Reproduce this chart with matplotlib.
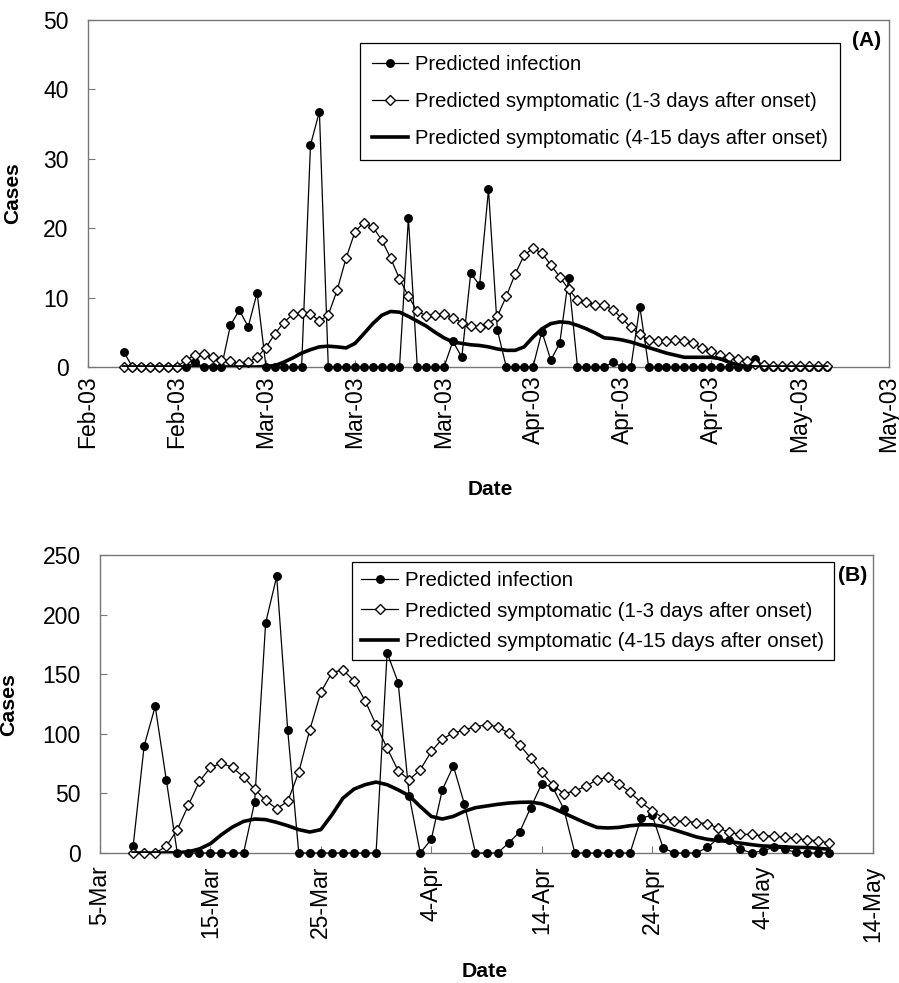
import matplotlib.pyplot as plt
import numpy as np
import pandas as pd

plt.rcParams['font.family'] = ['Liberation Sans', 'DejaVu Sans']

# ---- panel A data (daily, from 14 Feb 2003) ----
dates_a = pd.date_range('2003-02-14', periods=80, freq='D')
infection_a = [2.2, 0, 0, 0, 0, 0, 0, 0, 0.7, 0, 0, 0, 6.0, 8.2, 5.8, 10.7,
               0, 0, 0, 0, 0, 32.0, 36.8, 0, 0, 0, 0, 0, 0, 0, 0, 0,
               21.5, 0, 0, 0, 0, 3.7, 1.4, 13.5, 11.8, 25.6, 5.3, 0, 0, 0, 0,
               5.1, 1.0, 3.4, 12.8, 0, 0, 0, 0, 0.7, 0, 0, 8.7,
               0, 0, 0, 0, 0, 0, 0, 0, 0, 0, 0, 0, 1.2, 0, 0, 0, 0, 0, 0, 0, 0]
sympt13_a = [0, 0, 0, 0, 0, 0, 0, 1.0, 1.7, 1.9, 1.4, 1.0, 0.9, 0.4, 0.7, 1.4,
             2.8, 4.8, 6.4, 7.6, 7.8, 7.7, 6.6, 7.5, 11.1, 15.7, 19.5, 20.8,
             20.2, 18.3, 15.7, 12.7, 10.2, 8.0, 7.4, 7.5, 7.7, 7.1, 6.4, 5.9,
             5.7, 6.25, 7.3, 10.2, 13.4, 16.1, 17.1, 16.4, 14.7, 13.0, 11.2,
             9.7, 9.4, 9.0, 8.9, 8.2, 7.0, 5.7, 4.7, 3.9, 3.75, 3.75, 3.85,
             3.75, 3.4, 2.7, 2.3, 1.8, 1.4, 1.1, 0.9, 0.5, 0.3,
             0.1, 0.1, 0.1, 0.1, 0.1, 0.1, 0.1]
sympt415_a = [0, 0, 0, 0, 0, 0, 0, 0, 0, 0, 0, 0, 0, 0, 0, 0,
              0.1, 0.2, 0.7, 1.3, 2.0, 2.5, 2.9, 3.0, 2.9, 2.75, 3.4, 4.8,
              6.25, 7.45, 8.0, 7.9, 7.3, 6.6, 5.9, 5.0, 4.2, 3.6, 3.4, 3.2,
              3.1, 2.9, 2.6, 2.4, 2.4, 2.9, 4.3, 5.5, 6.25, 6.5, 6.4, 6.0,
              5.5, 4.9, 4.2, 4.1, 3.9, 3.6, 3.2, 2.8, 2.4, 2.0, 1.7, 1.4,
              1.4, 1.4, 1.4, 1.2, 0.7, 0.3, 0.1, 0, 0, 0, 0, 0, 0, 0, 0, 0]
ticks_a = pd.date_range('2003-02-10', periods=10, freq='10D')
tick_labels_a = ['Feb-03', 'Feb-03', 'Mar-03', 'Mar-03', 'Mar-03',
                 'Apr-03', 'Apr-03', 'Apr-03', 'May-03', 'May-03']

# ---- panel B data (daily, from 8 Mar 2003) ----
dates_b = pd.date_range('2003-03-08', periods=64, freq='D')
infection_b = [5.6, 90, 123, 61.5, 0, 0, 0, 0, 0, 0, 0, 42.5, 193, 232, 103,
               0, 0, 0, 0, 0, 0, 0, 0, 168, 143, 48, 0, 11.5, 53, 73, 41,
               0, 0, 0, 8.4, 17.6, 38, 58, 55, 37, 0, 0, 0, 0, 0, 0,
               29.3, 31.6, 4.2, 0, 0, 0, 4.7, 12.3, 10.5, 3.3, 0, 1.9, 4.7,
               3.2, 0.6, 0, 0, 0]
sympt13_b = [0, 0, 0, 5.6, 19.6, 40, 60, 71.8, 75.4, 71.8, 63.7, 53.6, 44.1,
             37.2, 43.3, 67.9, 103.4, 134.9, 151.4, 153.6, 144.4, 127.9,
             107.5, 88, 69, 61.5, 69.8, 85.2, 95.8, 100.6, 103.4, 106, 107.5,
             106, 100.6, 90.8, 79.6, 67.6, 57.3, 49.7, 52.2, 55.9, 61.5, 63.7,
             58.1, 50.8, 42.5, 35.5, 29.3, 26.7, 26.7, 25.5, 24.7, 20.8, 17.4,
             15.6, 15.6, 14.5, 14.1, 13.2, 12.4, 11.0, 10.3, 8.5]
sympt415_b = [0, 0, 0, 0, 0.3, 1, 3.4, 7.8, 15.4, 21.8, 26.5, 28.5, 28, 25.7,
              22.9, 19.6, 17.6, 19.6, 32, 46, 53.6, 57.3, 59.5, 57.3, 53, 48,
              39, 30.7, 28.5, 30.7, 35, 38, 39.4, 40.8, 41.9, 42.5, 42.7, 41.3,
              37.7, 33.5, 29.3, 25.1, 21.5, 21, 21.5, 22.9, 23.7, 23.7, 22.3,
              19.4, 16.5, 13.5, 11.5, 10.4, 9.6, 8.3, 7.0, 5.9, 5.6, 5.1, 4.7,
              4.6, 4.0, 3.2]
ticks_b = pd.date_range('2003-03-05', periods=8, freq='10D')
tick_labels_b = ['5-Mar', '15-Mar', '25-Mar', '4-Apr', '14-Apr', '24-Apr',
                 '4-May', '14-May']

labels = ['Predicted infection',
          'Predicted symptomatic (1-3 days after onset)',
          'Predicted symptomatic (4-15 days after onset)']

fig = plt.figure(figsize=(8.99, 9.83), dpi=100)
ax_a = fig.add_axes([88 / 899, 1 - 367 / 983, 801 / 899, 347 / 983])
ax_b = fig.add_axes([100 / 899, 1 - 853 / 983, 773 / 899, 298 / 983])


def draw(ax, dates, inf, s13, s415, ticks, tlabels, ymax, ystep,
         fs, lfs, leg_anchor, leg_spacing, bpad, tag, tag_xy, ylab_xy,
         xlab_xy, xpad):
    ax.plot(dates, inf, color='black', lw=0.9, marker='o', ms=5.4,
            mfc='black', mec='black', label=labels[0], zorder=3, clip_on=False)
    ax.plot(dates, s13, color='black', lw=0.9, marker='D', ms=5.0,
            mfc='white', mec='black', mew=1.0, label=labels[1], zorder=4,
            clip_on=False)
    ax.plot(dates, s415, color='black', lw=2.6, label=labels[2], zorder=5)

    ax.set_xlim(ticks[0], ticks[-1])
    ax.set_ylim(0, ymax)
    ax.set_yticks(np.arange(0, ymax + 1, ystep))
    ax.set_xticks(ticks)
    ax.set_xticklabels(tlabels, rotation=90, fontsize=16.5)
    ax.tick_params(axis='y', direction='in', length=5, color='#777777',
                   labelsize=16.5, pad=14)
    ax.tick_params(axis='x', direction='in', length=5, color='#777777',
                   pad=xpad)
    for sp in ax.spines.values():
        sp.set_color('#777777')
        sp.set_linewidth(1.0)

    ax.set_ylabel('Cases', fontsize=fs, fontweight='bold')
    ax.yaxis.set_label_coords(*ylab_xy)
    ax.set_xlabel('Date', fontsize=fs, fontweight='bold')
    ax.xaxis.set_label_coords(*xlab_xy)

    leg = ax.legend(loc='upper left', bbox_to_anchor=leg_anchor,
                    fontsize=lfs, frameon=True, fancybox=False,
                    edgecolor='black', framealpha=1, borderaxespad=0,
                    handlelength=1.8, handletextpad=0.35,
                    labelspacing=leg_spacing, borderpad=bpad)
    leg.get_frame().set_linewidth(0.9)
    leg.set_zorder(2)
    ax.text(tag_xy[0], tag_xy[1], tag, transform=ax.transAxes, fontsize=fs,
            fontweight='bold', ha='center', va='center')


draw(ax_a, dates_a, infection_a, sympt13_a, sympt415_a, ticks_a,
     tick_labels_a, 50, 10, 15, 14.5, ((360 - 88) / 801, (367 - 43) / 347),
     0.9, 0.58, '(A)', (0.972, 0.942), (-0.082, 0.5), (0.502, -0.326), 6)
draw(ax_b, dates_b, infection_b, sympt13_b, sympt415_b, ticks_b,
     tick_labels_b, 250, 50, 15.3, 14.8, ((352 - 100) / 773, (853 - 562) / 298),
     0.55, 0.45, '(B)', (0.974, 0.93), (-0.106, 0.497), (0.498, -0.366), 9)

fig.savefig('out.png', dpi=100)
